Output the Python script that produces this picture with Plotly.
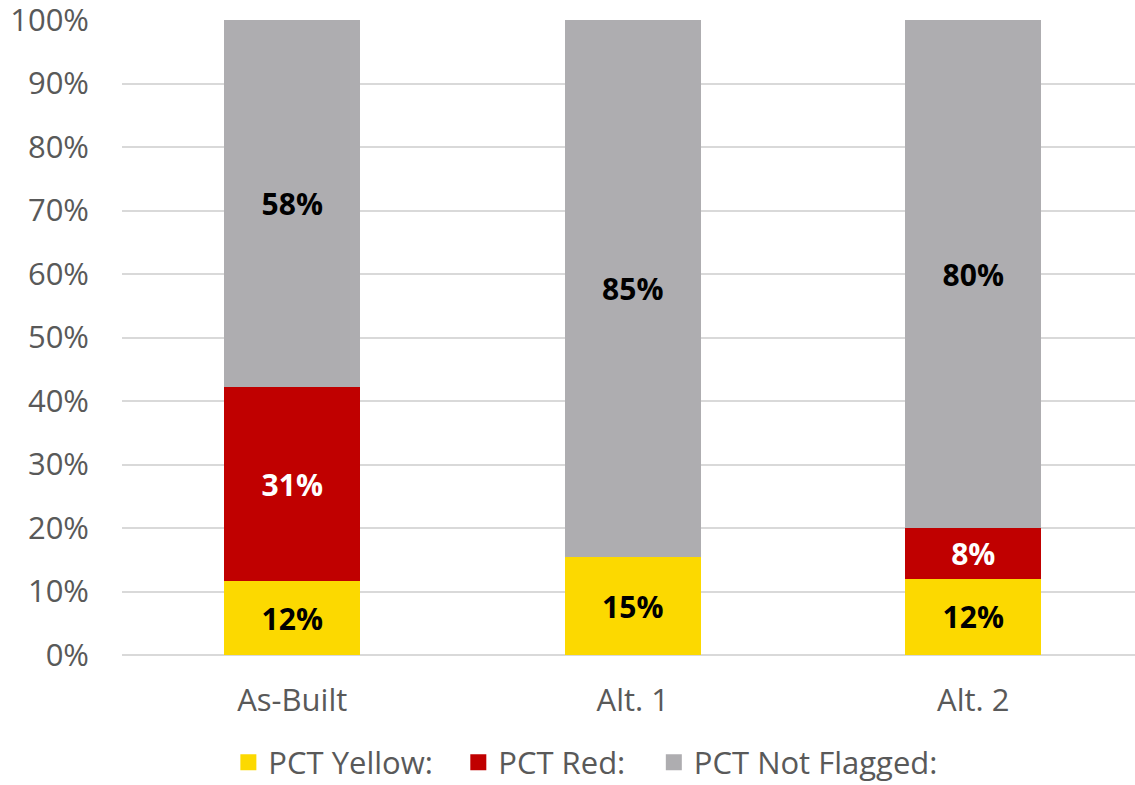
import plotly.graph_objects as go

# Share of items in each flag class, per design option (percent)
scenarios = ["As-Built", "Alt. 1", "Alt. 2"]
pct_yellow = [11.6, 15.4, 12.0]
pct_red = [30.6, 0.0, 8.0]
pct_not_flagged = [57.8, 84.6, 80.0]

series_names = ["PCT Yellow:", "PCT Red:", "PCT Not Flagged:"]
y_ticks = [0, 10, 20, 30, 40, 50, 60, 70, 80, 90, 100]

FONT = "Open Sans, Noto Sans, sans-serif"
AXIS_GREY = "#595959"

series = [
    (series_names[0], pct_yellow, "#FCD900", "#000000"),
    (series_names[1], pct_red, "#C00000", "#FFFFFF"),
    (series_names[2], pct_not_flagged, "#AEADB0", "#000000"),
]
legend_ids = ["legend", "legend2", "legend3"]
legend_x = [0.105, 0.332, 0.525]

fig = go.Figure()
for (name, vals, color, txt_color), lid in zip(series, legend_ids):
    labels = [f"{v:.0f}%" if v > 0 else "" for v in vals]
    fig.add_trace(go.Bar(
        x=scenarios,
        y=vals,
        name=name,
        marker=dict(color=color, line=dict(width=0)),
        width=0.4,
        text=labels,
        texttemplate="%{text}",
        textposition="inside",
        insidetextanchor="middle",
        textangle=0,
        textfont=dict(family=FONT, size=30, color=txt_color, weight="bold"),
        hoverinfo="skip",
        showlegend=False,
    ))
    # square swatch shown in the legend for this series
    fig.add_trace(go.Scatter(
        x=[None],
        y=[None],
        mode="markers",
        name=name,
        marker=dict(symbol="square", size=19, color=color),
        legend=lid,
        showlegend=True,
        hoverinfo="skip",
    ))

legend_common = dict(
    orientation="h",
    xanchor="left",
    y=-0.212,
    yanchor="bottom",
    font=dict(family=FONT, size=31, color=AXIS_GREY),
    itemsizing="trace",
    bgcolor="rgba(0,0,0,0)",
    borderwidth=0,
)

fig.update_layout(
    barmode="stack",
    width=1135,
    height=785,
    margin=dict(l=122, r=0, t=20, b=130, autoexpand=False),
    paper_bgcolor="white",
    plot_bgcolor="white",
    font=dict(family=FONT, size=31, color=AXIS_GREY),
    uniformtext=dict(mode="show", minsize=10),
    xaxis=dict(
        range=[-0.5, 2.475],
        showgrid=False,
        showline=False,
        ticks="",
        automargin=False,
        ticklabelstandoff=24,
        tickfont=dict(size=31, color=AXIS_GREY),
    ),
    yaxis=dict(
        range=[0, 100],
        tickvals=y_ticks,
        ticktext=[f"{t}%" for t in y_ticks],
        showgrid=True,
        gridcolor="#D9D9D9",
        gridwidth=1.5,
        zeroline=True,
        zerolinecolor="#D9D9D9",
        zerolinewidth=1.5,
        showline=False,
        ticks="",
        automargin=False,
        ticklabeloverflow="allow",
        ticklabelstandoff=32,
        tickfont=dict(size=31, color=AXIS_GREY),
    ),
    legend=dict(x=legend_x[0], **legend_common),
    legend2=dict(x=legend_x[1], **legend_common),
    legend3=dict(x=legend_x[2], **legend_common),
    showlegend=True,
)

fig.write_html("out.html")
